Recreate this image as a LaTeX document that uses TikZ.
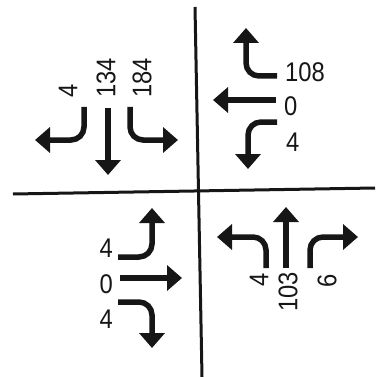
\documentclass[tikz,border=0pt]{standalone}
\usepackage{fontspec}
\setmainfont{Liberation Sans}[FakeStretch=0.88]
\usetikzlibrary{arrows.meta}
\definecolor{ink}{RGB}{22,22,22}
\tikzset{
  mov/.style={-{Triangle[width=25pt,length=15pt]}, ink, line width=5.5pt, rounded corners=13pt},
  axis/.style={ink, line width=3pt},
  cnt/.style={font=\fontsize{27}{27}\selectfont, text=ink, inner sep=0pt},
}
\begin{document}
\begin{tikzpicture}[x=1pt, y=-1pt,
          up/.style={cnt, rotate=90}]
  \useasboundingbox (0,0) rectangle (375,377);
  \coordinate (n) at (195,7);
  \coordinate (s) at (202,377);
  \coordinate (w) at (13,194);
  \coordinate (e) at (375,188);
  \draw[axis] (n) -- (s);
  \draw[axis] (w) -- (e);
  % north approach
  \draw[mov] (84,107) -- (84,140) -- (35,140);
  \draw[mov] (108,108) -- (108,175);
  \draw[mov] (130,107) -- (130,140) -- (178,140);
  \node[up, anchor=west] (nl) at (68,98)  {4};
  \node[up, anchor=west] (nt) at (106,98) {134};
  \node[up, anchor=west] (nr) at (142,98) {184};
  % east approach
  \draw[mov] (277,76) -- (246,76) -- (246,28);
  \draw[mov] (276,100) -- (213,100);
  \draw[mov] (277,122) -- (248,122) -- (248,169);
  \node[cnt, anchor=west] (el) at (285,72)  {108};
  \node[cnt, anchor=west] (et) at (284,106) {0};
  \node[cnt, anchor=west] (er) at (286,142) {4};
  % west approach
  \draw[mov] (118,257) -- (152,257) -- (152,208);
  \draw[mov] (120,278) -- (182,278);
  \draw[mov] (118,302) -- (152,302) -- (152,348);
  \node[cnt, anchor=east] (wl) at (113,248) {4};
  \node[cnt, anchor=east] (wt) at (113,284) {0};
  \node[cnt, anchor=east] (wr) at (113,319) {4};
  % south approach
  \draw[mov] (266,268) -- (266,237) -- (217,237);
  \draw[mov] (286,268) -- (286,207);
  \draw[mov] (310,268) -- (310,237) -- (358,237);
  \node[up, anchor=east] (sl) at (259,273) {4};
  \node[up, anchor=east] (st) at (288,272) {103};
  \node[up, anchor=east] (sr) at (327,274) {6};
\end{tikzpicture}
\end{document}
